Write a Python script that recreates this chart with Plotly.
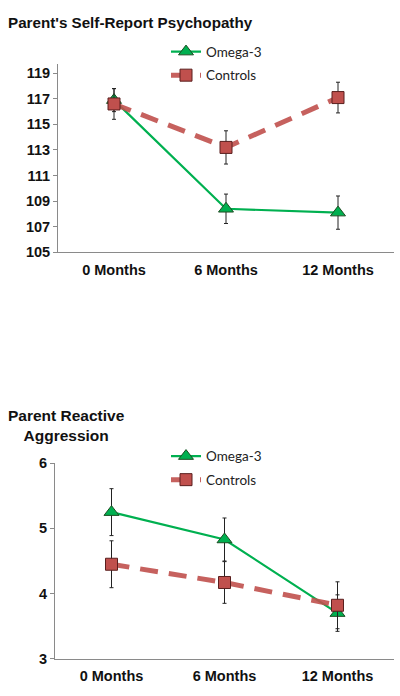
import plotly.graph_objects as go

months = ["0 Months", "6 Months", "12 Months"]

# Chart 1: Parent's Self-Report Psychopathy
psy_omega = [116.9, 108.4, 108.1]
psy_omega_err = [0.9, 1.15, 1.3]
psy_ctrl = [116.6, 113.2, 117.1]
psy_ctrl_err = [1.2, 1.3, 1.2]
psy_ticks = [105, 107, 109, 111, 113, 115, 117, 119]

# Chart 2: Parent Reactive Aggression
agg_omega = [5.25, 4.83, 3.70]
agg_omega_err = [0.36, 0.33, 0.28]
agg_ctrl = [4.45, 4.17, 3.82]
agg_ctrl_err = [0.36, 0.32, 0.36]
agg_ticks = [3, 4, 5, 6]

GREEN = "#00B050"
RED = "#C0504D"
FONT = "Liberation Sans, Arial, sans-serif"

fig = go.Figure()

def add_pair(xa, ya, om, om_e, ct, ct_e, legend, tag):
    fig.add_trace(go.Scatter(
        x=months, y=om, name="Omega-3", xaxis=xa, yaxis=ya, legend=legend,
        legendgroup="om" + tag, mode="lines+markers",
        line=dict(color=GREEN, width=2.2),
        marker=dict(symbol="triangle-up", size=13, color=GREEN,
                    line=dict(color="#1d4d22", width=1)),
        error_y=dict(type="data", array=om_e, visible=True,
                     color="#222222", thickness=1, width=2),
    ))
    fig.add_trace(go.Scatter(
        x=months, y=ct, name="Controls", xaxis=xa, yaxis=ya, legend=legend,
        legendgroup="ct" + tag, mode="lines+markers",
        line=dict(color="rgba(192,80,77,0.9)", width=5, dash="18px,11px"),
        marker=dict(symbol="square", size=12, color=RED,
                    line=dict(color="#5a1f1e", width=1)),
        error_y=dict(type="data", array=ct_e, visible=True,
                     color="#222222", thickness=1, width=2),
    ))

add_pair("x", "y", psy_omega, psy_omega_err, psy_ctrl, psy_ctrl_err, "legend", "1")
add_pair("x2", "y2", agg_omega, agg_omega_err, agg_ctrl, agg_ctrl_err, "legend2", "2")

H = 696.0
W = 400.0

axis_common = dict(showgrid=False, zeroline=False, showline=True,
                   linecolor="#8a8a8a", linewidth=1,
                   tickfont=dict(family=FONT, size=14.5, color="#111111",
                                 weight="bold"))

legend_common = dict(
    font=dict(family="Lato, Open Sans, sans-serif", size=13.5, color="#222222"),
    bgcolor="rgba(0,0,0,0)", borderwidth=0,
    xanchor="left", yanchor="top", itemwidth=30, tracegroupgap=3,
)

fig.update_layout(
    width=400, height=696,
    margin=dict(l=0, r=0, t=0, b=0),
    paper_bgcolor="white", plot_bgcolor="white",
    xaxis=dict(domain=[58 / W, 394 / W], anchor="y", ticks="",
               range=[-0.5, 2.5], ticklabelstandoff=4, **axis_common),
    yaxis=dict(domain=[1 - 250 / H, 1 - 57 / H], anchor="x",
               range=[105, 119.75], tickvals=psy_ticks,
               ticks="outside", ticklen=4, tickcolor="#8a8a8a",
               **axis_common),
    xaxis2=dict(domain=[55 / W, 394 / W], anchor="y2", ticks="",
                range=[-0.5, 2.5], ticklabelstandoff=4, **axis_common),
    yaxis2=dict(domain=[1 - 666 / H, 1 - 466 / H], anchor="x2",
                range=[3, 6], tickvals=agg_ticks,
                ticks="outside", ticklen=4, tickcolor="#8a8a8a",
                **axis_common),
    legend=dict(x=166 / W, y=1 - 29 / H, **legend_common),
    legend2=dict(x=166 / W, y=1 - 443 / H, **legend_common),
    showlegend=True,
)

fig.add_annotation(
    text="<b>Parent's Self-Report Psychopathy</b>", xref="paper", yref="paper",
    x=6 / W, y=1 - 4 / H, xanchor="left", yanchor="top", showarrow=False,
    font=dict(family=FONT, size=15.2, color="#111111"),
)
fig.add_annotation(
    text="<b>Parent Reactive<br>Aggression</b>", xref="paper", yref="paper",
    x=66 / W, y=1 - 406 / H, xanchor="center", yanchor="top", showarrow=False,
    align="center",
    font=dict(family=FONT, size=15.5, color="#111111"),
)

fig.write_html("out.html", config={"displayModeBar": False},
               post_script="document.body.style.margin='0px';document.body.style.overflow='hidden';")
